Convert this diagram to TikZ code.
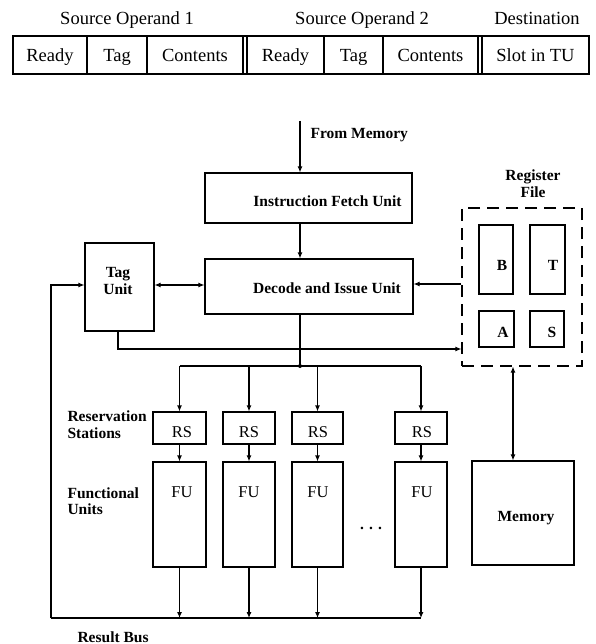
\documentclass[tikz,border=0pt]{standalone}
\usepackage{fontspec}
\setmainfont{Liberation Serif}
\usetikzlibrary{arrows.meta,calc}
\begin{document}
\begin{tikzpicture}[x=1pt,y=-1pt,line width=1.1pt,
  box/.style={draw,rectangle,inner sep=0pt},
  lbl/.style={font=\fontsize{16.5}{17}\selectfont,inner sep=0pt,anchor=base},
  blbl/.style={font=\fontsize{15.5}{16}\selectfont\bfseries,inner sep=0pt,anchor=base},
  tbltxt/.style={font=\fontsize{18.5}{20}\selectfont,inner sep=0pt,anchor=base},
  arr/.style={-{Latex[length=6pt,width=5pt]}},
  arrr/.style={{Latex[length=6pt,width=5pt]}-{Latex[length=6pt,width=5pt]}},
  regbox/.style={draw,dash pattern=on 12pt off 7pt,inner sep=0pt},
  dot/.style={circle,fill,inner sep=0pt,minimum size=4pt}
]
\useasboundingbox (0,0) rectangle (595,644);

% ---------- top table ----------
\node[tbltxt] (h1) at (127,24.5) {Source Operand 1};
\node[tbltxt] (h2) at (362,24.5) {Source Operand 2};
\node[tbltxt] (h3) at (537,24.5) {Destination};
\node[box,minimum width=576pt,minimum height=38pt] (frame) at (301,55) {};
\foreach \x in {87,147,243,247,324,383,478,482}
  \draw (\x,36) -- (\x,74);
\node[tbltxt] (c1) at (50,62) {Ready};
\node[tbltxt] (c2) at (117,62) {Tag};
\node[tbltxt] (c3) at (195,62) {Contents};
\node[tbltxt] (c4) at (285.5,62) {Ready};
\node[tbltxt] (c5) at (353.5,62) {Tag};
\node[tbltxt] (c6) at (430.5,62) {Contents};
\node[tbltxt] (c7) at (535.5,62) {Slot in TU};

% ---------- boxes ----------
\node[box,minimum width=207pt,minimum height=50pt] (fetch) at (308.5,198) {};
\node[blbl] (fetcht) at (327.5,207) {Instruction Fetch Unit};
\node[box,minimum width=208pt,minimum height=55pt] (dec) at (309,286.5) {};
\node[blbl] (dect) at (327,293) {Decode and Issue Unit};
\node[box,minimum width=69pt,minimum height=88pt] (tag) at (119.5,287) {};
\node[blbl] (tagt1) at (118,277) {Tag};
\node[blbl] (tagt2) at (118,294) {Unit};

% register file
\node[regbox,minimum width=120pt,minimum height=158pt] (reg) at (522,287) {};
\node[blbl] (regt1) at (533,181) {Register};
\node[blbl] (regt2) at (533,198) {File};
\node[box,minimum width=34pt,minimum height=69pt] (rb) at (496,259.5) {};
\node[box,minimum width=35pt,minimum height=69pt] (rt) at (547.5,259.5) {};
\node[box,minimum width=35pt,minimum height=36pt] (ra) at (496.5,329) {};
\node[box,minimum width=34pt,minimum height=36pt] (rs) at (547,329) {};
\node[blbl] (rbt) at (502,270) {B};
\node[blbl] (rtt) at (553,270) {T};
\node[blbl] (rat) at (503,337) {A};
\node[blbl] (rst) at (552,337) {S};

% reservation stations and functional units
\foreach \n/\cx/\w/\tx in {1/179.5/53/182,2/249/52/249,3/317.5/51/318,4/421/52/422}{
  \node[box,minimum width=\w pt,minimum height=32pt] (rs\n) at (\cx,428) {};
  \node[lbl] (rst\n) at (\tx,437) {RS};
  \node[box,minimum width=\w pt,minimum height=105pt] (fu\n) at (\cx,514.5) {};
  \node[lbl] (fut\n) at (\tx,497) {FU};
}
\node[box,minimum width=102pt,minimum height=104pt] (mem) at (523,513) {};
\node[blbl] (memt) at (526,521) {Memory};
\node[blbl] (dots) at (371,529) {.\,\,.\,\,.};

% side labels
\node[blbl,anchor=base west] (resv1) at (67,421) {Reservation};
\node[blbl,anchor=base west] (resv2) at (67,438) {Stations};
\node[blbl,anchor=base west] (func1) at (67,498) {Functional};
\node[blbl,anchor=base west] (func2) at (67,514) {Units};
\node[blbl,anchor=base west] (rbus) at (77,642) {Result Bus};
\node[blbl,anchor=base west] (fromm) at (310,138.5) {From Memory};

% ---------- coordinates ----------
\coordinate (fm) at (300,121);
\coordinate (jn) at (300,366);
\coordinate (tl) at (51,285);
\coordinate (busL) at (51,618);
\coordinate (tb) at (118,349);
\coordinate (rd) at (0,284);
\coordinate (mx) at (513,0);

% ---------- connectors ----------
\draw[arr] (fm) -- (fetch.north -| fm);
\draw[arr] (fetch.south -| fm) -- (dec.north -| fm);
\draw[arrr] (tag.east |- tl) -- (dec.west |- tl);
\draw[arr] (reg.west |- rd) -- (dec.east |- rd);
\draw[arr] (tag.south -| tb) -- (tb) -- (tb -| reg.west);
\draw (dec.south -| fm) -- (jn);
\node[dot] (jdot) at (jn) {};
\draw (rs1.north |- jn) -- (rs4.north |- jn);
\foreach \n in {1,2,3,4}{
  \draw[arr] (rs\n.north |- jn) -- (rs\n.north);
  \draw[arr] (rs\n.south) -- (fu\n.north);
  \draw[arr] (fu\n.south) -- (fu\n.south |- busL);
}
\draw (busL) -- (fu4.south |- busL);
\draw[arr] (busL) -- (tl) -- (tag.west |- tl);
\draw[arrr] (reg.south -| mx) -- (mem.north -| mx);
\end{tikzpicture}
\end{document}
